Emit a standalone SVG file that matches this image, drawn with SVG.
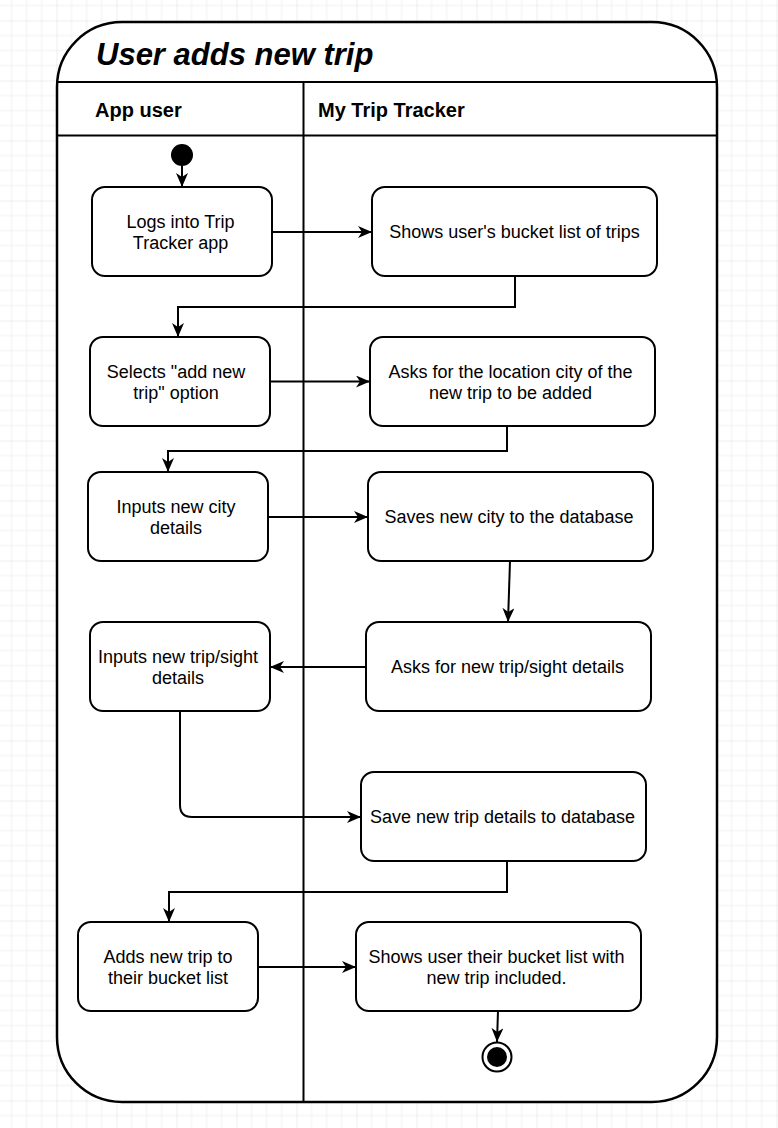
<svg xmlns="http://www.w3.org/2000/svg" width="778" height="1128" viewBox="0 0 778 1128">
<style>
.node rect{fill:#fff;stroke:#000;stroke-width:2}
.t{font-family:"Liberation Sans",Arial,Helvetica,sans-serif;font-size:18px;fill:#000;text-anchor:middle}
.h{font-family:"Liberation Sans",Arial,Helvetica,sans-serif;font-size:20px;font-weight:bold;fill:#000}
.title{font-family:"Liberation Sans",Arial,Helvetica,sans-serif;font-size:31px;font-weight:bold;font-style:italic;fill:#000}
.c{fill:none;stroke:#000;stroke-width:2;marker-end:url(#arr)}
.ln{stroke:#000;stroke-width:2;fill:none}
</style>
<defs>
<pattern id="grid" patternUnits="userSpaceOnUse" x="56.5" y="20.5" width="60" height="60">
<path d="M15 0V60M30 0V60M45 0V60M0 15H60M0 30H60M0 45H60" stroke="#f0f0f0" stroke-width="1"/>
<path d="M0 0V60M0 0H60" stroke="#dddddd" stroke-width="1"/>
</pattern>
<marker id="arr" markerUnits="userSpaceOnUse" markerWidth="16" markerHeight="14" refX="14" refY="6" orient="auto">
<path d="M0,0 L14,6 L0,12 L4,6 z" fill="#000"/>
</marker>
</defs>
<rect x="0" y="0" width="778" height="1128" fill="#fff"/>
<rect x="0" y="0" width="778" height="1128" fill="url(#grid)"/>

<g id="pool">
<rect x="57" y="22" width="660" height="1080" rx="65" ry="65" fill="#fff" stroke="#000" stroke-width="2.5"/>
<line class="ln" x1="57" y1="82" x2="717" y2="82" stroke-width="2.5"/>
<line class="ln" x1="57" y1="135.5" x2="717" y2="135.5" stroke-width="2.5"/>
<line class="ln" x1="303.5" y1="82" x2="303.5" y2="1102"/>
<text class="title" x="96" y="65">User adds new trip</text>
<text class="h" x="95" y="117">App user</text>
<text class="h" x="318" y="117">My Trip Tracker</text>
</g>

<g id="start"><circle cx="182" cy="155" r="11" fill="#000"/></g>

<g id="n1" class="node"><rect x="92" y="187" width="180" height="89" rx="13"/>
<text class="t" x="180.5" y="228">Logs into Trip</text><text class="t" x="180.5" y="249">Tracker app</text></g>
<g id="n2" class="node"><rect x="372" y="187" width="285" height="89" rx="13"/>
<text class="t" x="514.5" y="238">Shows user's bucket list of trips</text></g>
<g id="n3" class="node"><rect x="90" y="337" width="180" height="89" rx="13"/>
<text class="t" x="176" y="378">Selects "add new</text><text class="t" x="176" y="399">trip" option</text></g>
<g id="n4" class="node"><rect x="370" y="337" width="285" height="89" rx="13"/>
<text class="t" x="510.5" y="378">Asks for the location city of the</text><text class="t" x="510.5" y="399">new trip to be added</text></g>
<g id="n5" class="node"><rect x="88" y="472" width="180" height="89" rx="13"/>
<text class="t" x="176" y="512.5">Inputs new city</text><text class="t" x="176" y="533.5">details</text></g>
<g id="n6" class="node"><rect x="368" y="472" width="285" height="89" rx="13"/>
<text class="t" x="509" y="523">Saves new city to the database</text></g>
<g id="n7" class="node"><rect x="90" y="622" width="180" height="89" rx="13"/>
<text class="t" x="178" y="662.5">Inputs new trip/sight</text><text class="t" x="178" y="683.5">details</text></g>
<g id="n8" class="node"><rect x="366" y="622" width="285" height="89" rx="13"/>
<text class="t" x="507.5" y="673">Asks for new trip/sight details</text></g>
<g id="n9" class="node"><rect x="361" y="772" width="285" height="89" rx="13"/>
<text class="t" x="502.5" y="823">Save new trip details to database</text></g>
<g id="n10" class="node"><rect x="78" y="922" width="180" height="89" rx="13"/>
<text class="t" x="168" y="962.5">Adds new trip to</text><text class="t" x="168" y="983.5">their bucket list</text></g>
<g id="n11" class="node"><rect x="356" y="922" width="285" height="89" rx="13"/>
<text class="t" x="496.5" y="962.5">Shows user their bucket list with</text><text class="t" x="496.5" y="983.5">new trip included.</text></g>

<g id="end"><circle cx="497" cy="1057" r="14.5" fill="#fff" stroke="#000" stroke-width="2"/><circle cx="497" cy="1057" r="10" fill="#000"/></g>

<g id="connectors">
<path class="c" d="M182,166 V187"/>
<path class="c" d="M272,232 H372"/>
<path class="c" d="M515,276 V307 H178 V337"/>
<path class="c" d="M270,381.5 H370"/>
<path class="c" d="M507,426 V451 H168 V472"/>
<path class="c" d="M268,517 H368"/>
<path class="c" d="M510,561 L508,622"/>
<path class="c" d="M366,667 H270"/>
<path class="c" d="M180,711 V805 Q180,817 192,817 H361"/>
<path class="c" d="M507,861 V892 H169 V922"/>
<path class="c" d="M258,967 H356"/>
<path class="c" d="M498,1011 L497,1042"/>
</g>
</svg>
